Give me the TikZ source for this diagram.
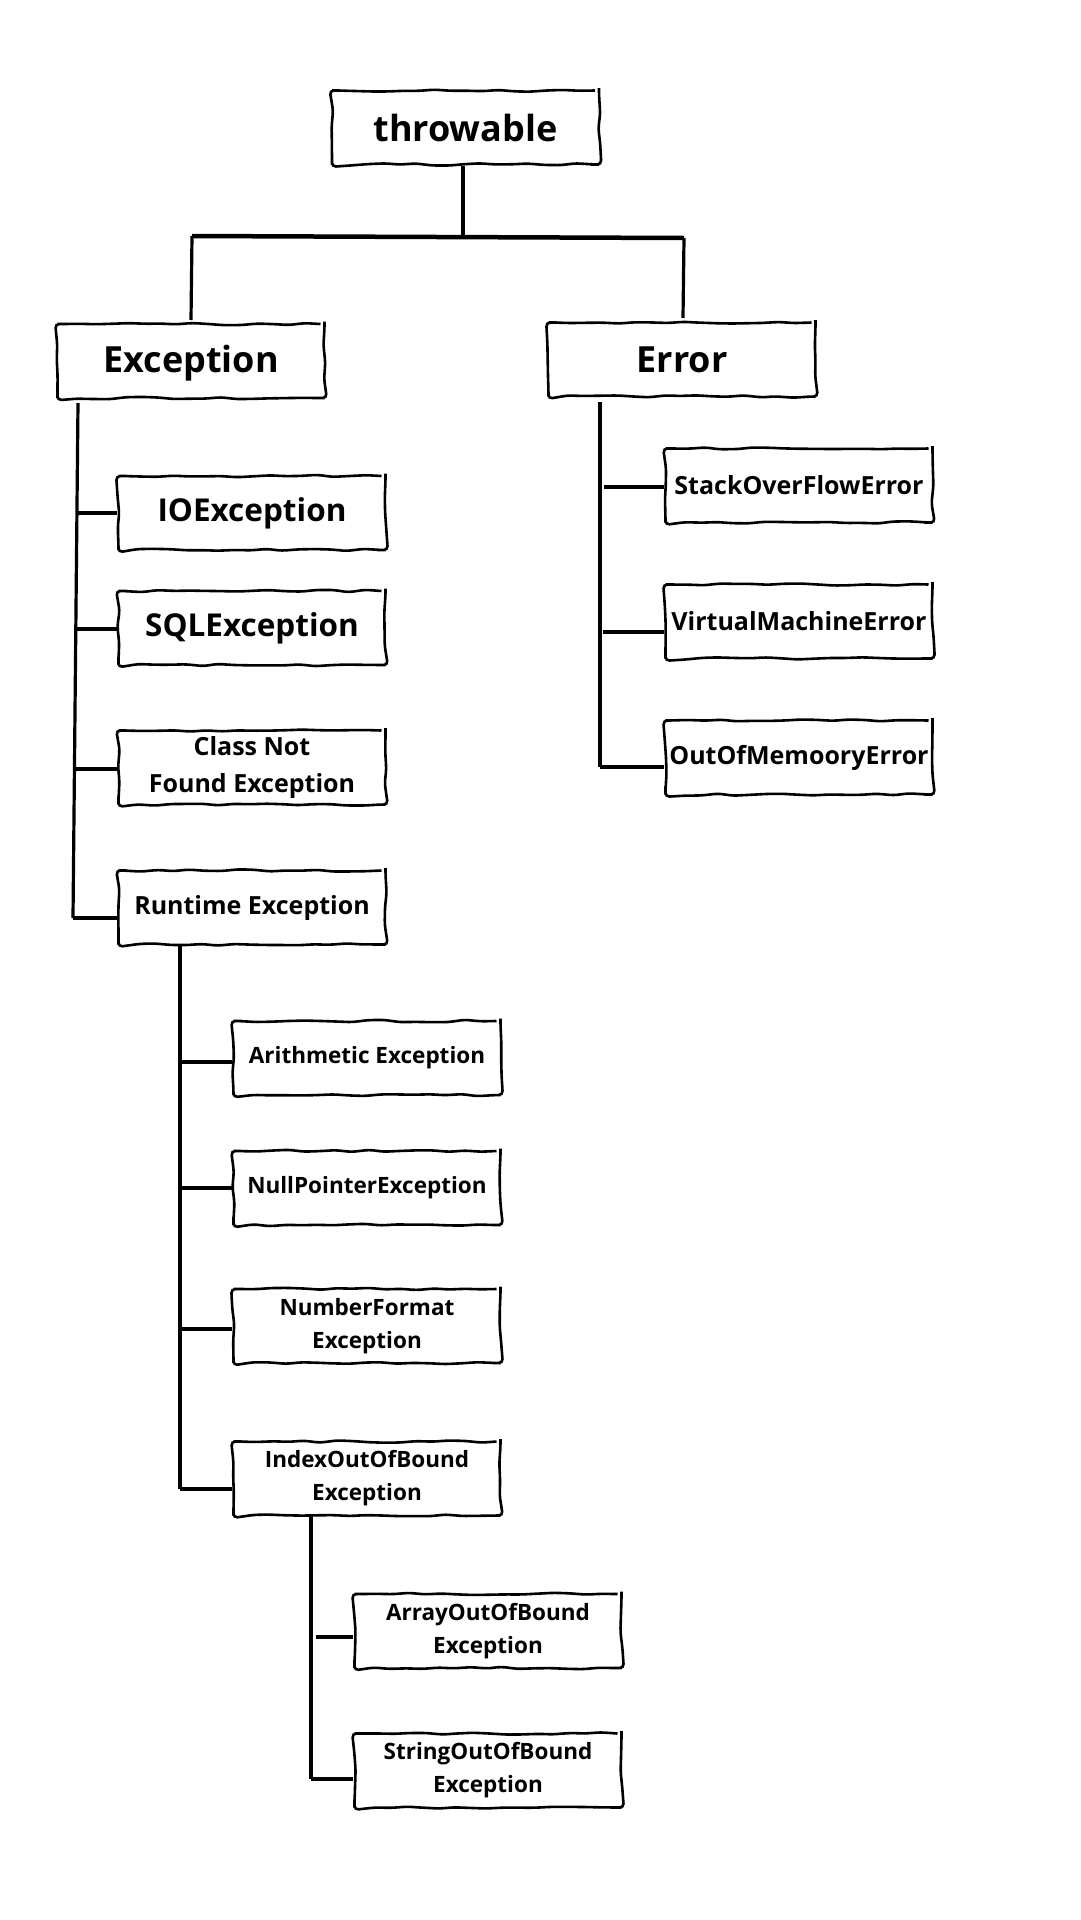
\documentclass[tikz,border=0pt]{standalone}
\usepackage{fontspec}
\setmainfont{Open Sans}
\usetikzlibrary{decorations.pathmorphing,calc}
\begin{document}
\pgfmathsetseed{7}
\begin{tikzpicture}[x=1pt,y=-1pt,
  box/.style={draw, line width=2.6pt, minimum width=267pt, minimum height=74pt, inner sep=0pt, align=center,
    decorate, decoration={random steps, segment length=16pt, amplitude=1.2pt}, rounded corners=4pt},
  fbig/.style={font=\bfseries\fontsize{36}{40}\selectfont},
  fmid/.style={font=\bfseries\fontsize{31.5}{38}\selectfont},
  fsm/.style={font=\bfseries\fontsize{25}{37}\selectfont},
  fxs/.style={font=\bfseries\fontsize{22.5}{33}\selectfont},
  conn/.style={line width=3.2pt},
  branch/.style={line width=4pt}]
\fill[white] (0,0) rectangle (1080,1920);
\useasboundingbox (0,0) rectangle (1080,1920);

% nodes
\node[box,fbig] (thr) at (465.5,127.5) {throwable};
\node[box,fbig,text depth=4pt] (exc) at (191,361) {Exception};
\node[box,fbig] (err) at (682,359.5) {Error};

\node[box,fmid] (io)  at (252,513) {IOException};
\node[box,fmid] (sql) at (252,628) {SQLException};
\node[box,fsm]  (cnf) at (252,767.5) {Class Not\\Found Exception};
\node[box,fsm]  (rt)  at (252,907.5) {Runtime Exception};

\node[box,fsm] (so)  at (799,485.5) {StackOverFlowError};
\node[box,fsm] (vm)  at (799,621.5) {VirtualMachineError};
\node[box,fsm] (oom) at (799,757.5) {OutOfMemooryError};

\node[box,fxs] (ar)   at (367,1058) {Arithmetic Exception};
\node[box,fxs] (np)   at (367,1188) {NullPointerException};
\node[box,fxs] (nf)   at (367,1326) {NumberFormat\\Exception};
\node[box,fxs] (ioob) at (367,1478.5) {IndexOutOfBound\\Exception};

\node[box,fxs] (aoob) at (488,1631) {ArrayOutOfBound\\Exception};
\node[box,fxs] (soob) at (488,1770.5) {StringOutOfBound\\Exception};

% top junction
\coordinate (jn) at (463,236);
\coordinate (jL) at (192,236);
\coordinate (jR) at (684,238);
\coordinate (jLe) at (191,320);
\coordinate (jRe) at (683,318);
\draw[conn] (thr.south -| jn) -- (jn);
\draw[line width=4.5pt] (jL) -- (jR);
\draw[conn] (jL) -- (jLe);
\draw[conn] (jR) -- (jRe);

% Exception subtree
\coordinate (eTop) at (78,403);
\coordinate (eEnd) at (73,918);
\draw[conn] (eTop) -- (eEnd);
\draw[branch] (77,513) -- (io.west);
\draw[branch] (76,629) -- (sql.west |- 0,629);
\draw[branch] (75,769) -- (cnf.west |- 0,769);
\draw[branch] (eEnd) -- (eEnd -| rt.west);

% Error subtree
\coordinate (rTop) at (600,402);
\coordinate (rEnd) at (600,767);
\draw[conn] (rTop) -- (rEnd);
\draw[branch] (604,487) -- (so.west |- 0,487);
\draw[branch] (603,632) -- (vm.west |- 0,632);
\draw[branch] (rEnd) -- (rEnd -| oom.west);

% Runtime subtree
\coordinate (tTop) at (180,944);
\coordinate (tEnd) at (180,1489);
\draw[conn] (tTop) -- (tEnd);
\draw[branch] (tTop |- 0,1062) -- (ar.west |- 0,1062);
\draw[branch] (tTop |- np.west) -- (np.west);
\draw[branch] (tTop |- 0,1329) -- (nf.west |- 0,1329);
\draw[branch] (tEnd) -- (tEnd -| ioob.west);

% IndexOutOfBound subtree
\coordinate (iTop) at (311,1515);
\coordinate (iEnd) at (311,1779);
\draw[conn] (iTop) -- (iEnd);
\draw[branch] (316,1637) -- (aoob.west |- 0,1637);
\draw[branch] (iEnd) -- (iEnd -| soob.west);
\end{tikzpicture}
\end{document}
